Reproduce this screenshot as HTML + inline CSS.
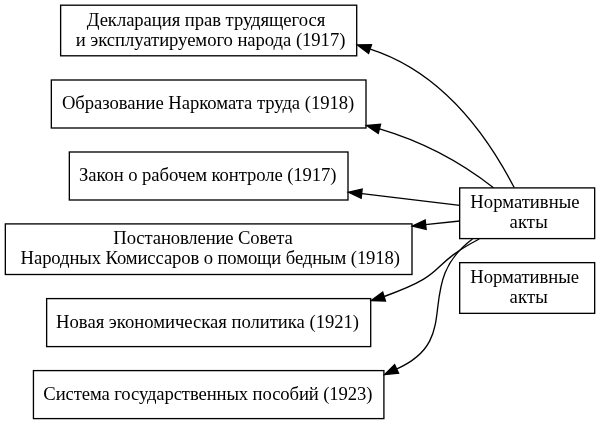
<!DOCTYPE html><html><head><meta charset="utf-8"><style>
html,body{margin:0;padding:0;background:#fff;width:600px;height:424px;overflow:hidden}
svg{display:block;will-change:transform}
text{font-family:"Liberation Serif",serif;font-size:18.67px;fill:#000}
</style></head><body>
<svg width="600" height="424" viewBox="0 0 600 424">
<rect width="600" height="424" fill="#fff"/>

<rect x="60.63" y="5.20" width="296.07" height="50.60" fill="none" stroke="#000" stroke-width="1.33"/>
<rect x="51.34" y="80.00" width="314.66" height="48.00" fill="none" stroke="#000" stroke-width="1.33"/>
<rect x="69.34" y="152.00" width="278.66" height="48.00" fill="none" stroke="#000" stroke-width="1.33"/>
<rect x="5.34" y="223.90" width="406.66" height="50.60" fill="none" stroke="#000" stroke-width="1.33"/>
<rect x="46.64" y="298.60" width="324.06" height="48.00" fill="none" stroke="#000" stroke-width="1.33"/>
<rect x="33.44" y="370.60" width="350.46" height="48.00" fill="none" stroke="#000" stroke-width="1.33"/>
<rect x="459.67" y="187.90" width="135.00" height="50.70" fill="none" stroke="#000" stroke-width="1.33"/>
<rect x="459.67" y="262.65" width="135.00" height="50.70" fill="none" stroke="#000" stroke-width="1.33"/>
<text x="86.73" y="26" textLength="238.51" lengthAdjust="spacing">Декларация прав трудящегося</text>
<text x="75.75" y="46" textLength="269.62" lengthAdjust="spacing">и эксплуатируемого народа (1917)</text>
<text x="61.90" y="109" textLength="292.33" lengthAdjust="spacing">Образование Наркомата труда (1918)</text>
<text x="79.04" y="181" textLength="257.43" lengthAdjust="spacing">Закон о рабочем контроле (1917)</text>
<text x="113.36" y="244" textLength="179.41" lengthAdjust="spacing">Постановление Совета</text>
<text x="20.62" y="264" textLength="379.33" lengthAdjust="spacing">Народных Комиссаров о помощи бедным (1918)</text>
<text x="56.09" y="328" textLength="303.00" lengthAdjust="spacing">Новая экономическая политика (1921)</text>
<text x="43.33" y="400" textLength="329.08" lengthAdjust="spacing">Система государственных пособий (1923)</text>
<text x="470.36" y="208" textLength="109.11" lengthAdjust="spacing">Нормативные</text>
<text x="509.46" y="228" textLength="38.23" lengthAdjust="spacing">акты</text>
<text x="470.33" y="283" textLength="108.64" lengthAdjust="spacing">Нормативные</text>
<text x="509.46" y="303" textLength="38.37" lengthAdjust="spacing">акты</text>
<path d="M514.30,187.80 C485.39,132.21 440.96,71.89 370.25,49.15" fill="none" stroke="#000" stroke-width="1.33"/>
<polygon points="357.37,44.92 368.57,53.51 371.49,44.64" fill="#000" stroke="#000" stroke-width="1.33"/>
<path d="M493.50,187.80 C459.63,161.10 420.97,141.11 379.60,128.90" fill="none" stroke="#000" stroke-width="1.33"/>
<polygon points="366.48,125.57 378.25,133.38 380.55,124.32" fill="#000" stroke="#000" stroke-width="1.33"/>
<path d="M459.8,205.3 L362.0,193.7" fill="none" stroke="#000" stroke-width="1.33"/>
<polygon points="348.40,192.27 361.17,198.31 362.14,189.02" fill="#000" stroke="#000" stroke-width="1.33"/>
<path d="M459.8,221.0 L425.3,224.7" fill="none" stroke="#000" stroke-width="1.33"/>
<polygon points="412.40,226.03 426.13,229.31 425.18,220.02" fill="#000" stroke="#000" stroke-width="1.33"/>
<path d="M479.25,239.00 C424.43,267.60 452.77,271.87 384.20,296.50" fill="none" stroke="#000" stroke-width="1.33"/>
<polygon points="371.37,300.49 385.48,300.99 382.71,292.07" fill="#000" stroke="#000" stroke-width="1.33"/>
<path d="M472.50,239.00 C411.06,284.68 465.86,338.62 396.40,369.05" fill="none" stroke="#000" stroke-width="1.33"/>
<polygon points="384.53,374.60 398.59,373.18 394.63,364.72" fill="#000" stroke="#000" stroke-width="1.33"/>
</svg></body></html>
